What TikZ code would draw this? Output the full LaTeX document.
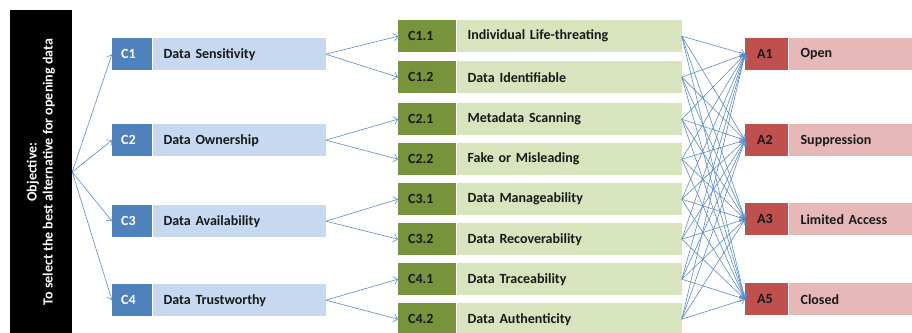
\documentclass[tikz,border=0pt]{standalone}
\usepackage{fontspec}
\setmainfont{Carlito}
\usetikzlibrary{positioning,arrows.meta}

\definecolor{cdark}{HTML}{4F81BD}
\definecolor{clight}{HTML}{C6D9F1}
\definecolor{sdark}{HTML}{77933C}
\definecolor{slight}{HTML}{D7E4BD}
\definecolor{adark}{HTML}{C0504D}
\definecolor{alight}{HTML}{E6B9B8}
\definecolor{linkcol}{HTML}{5A8BC8}

\begin{document}
\begin{tikzpicture}
        [x=1pt, y=-1pt, font=\fontsize{14}{16}\selectfont\bfseries,
        every node/.style={inner ysep=0pt, minimum height=32pt, align=left, anchor=north west},
        ccode/.style={fill=cdark, text=white, text width=22pt, inner xsep=9pt},
        clab/.style={fill=clight, text=black!90, text width=151pt, inner xsep=11pt},
        scode/.style={fill=sdark, text=black!90, text width=38pt, inner xsep=10pt},
        slab/.style={fill=slight, text=black!90, text width=203pt, inner xsep=11pt},
        acode/.style={fill=adark, text=black!90, text width=19pt, inner xsep=12pt},
        alab/.style={fill=alight, text=black!90, text width=106pt, inner xsep=12pt},
        link/.style={draw=linkcol, line width=0.6pt, -{Straight Barb[length=4pt,width=8pt]}}]
        \useasboundingbox (0,0) rectangle (912,332);
        % objective
        \node [fill=black, text=white, rotate=90, anchor=center, align=center,
               minimum width=324pt, minimum height=62pt, inner sep=0pt] (obj) at (41,172)
               {Objective:\\To select the best alternative for opening data};
        % criteria
        \node [ccode] (c1) at (112,38) {C1};
        \node [clab, right=0pt of c1] (c1lab) {Data Sensitivity};
        \node [ccode] (c2) at (112,124) {C2};
        \node [clab, right=0pt of c2] (c2lab) {Data Ownership};
        \node [ccode] (c3) at (112,205) {C3};
        \node [clab, right=0pt of c3] (c3lab) {Data Availability};
        \node [ccode] (c4) at (112,284) {C4};
        \node [clab, right=0pt of c4] (c4lab) {Data Trustworthy};
        % sub-criteria
        \node [scode] (c11) at (398,20) {C1.1};
        \node [slab, right=0pt of c11] (c11lab) {Individual Life-threating};
        \node [scode] (c12) at (398,61) {C1.2};
        \node [slab, right=0pt of c12] (c12lab) {Data Identifiable};
        \node [scode] (c21) at (398,103) {C2.1};
        \node [slab, right=0pt of c21] (c21lab) {Metadata Scanning};
        \node [scode] (c22) at (398,143) {C2.2};
        \node [slab, right=0pt of c22] (c22lab) {Fake or Misleading};
        \node [scode] (c31) at (398,183) {C3.1};
        \node [slab, right=0pt of c31] (c31lab) {Data Manageability};
        \node [scode] (c32) at (398,223) {C3.2};
        \node [slab, right=0pt of c32] (c32lab) {Data Recoverability};
        \node [scode] (c41) at (398,263) {C4.1};
        \node [slab, right=0pt of c41] (c41lab) {Data Traceability};
        \node [scode] (c42) at (398,303) {C4.2};
        \node [slab, right=0pt of c42] (c42lab) {Data Authenticity};
        % alternatives
        \node [acode] (a1) at (745,38) {A1};
        \node [alab, right=0pt of a1] (a1lab) {Open};
        \node [acode] (a2) at (745,124) {A2};
        \node [alab, right=0pt of a2] (a2lab) {Suppression};
        \node [acode] (a3) at (745,203) {A3};
        \node [alab, right=0pt of a3] (a3lab) {Limited Access};
        \node [acode] (a5) at (745,283) {A5};
        \node [alab, right=0pt of a5] (a5lab) {Closed};
        % links
        \foreach \c in {c1,c2,c3,c4}
            \draw [link] (obj.south) -- (\c.west);
        \foreach \c in {1,2,3,4} {
            \draw [link] (c\c lab.east) -- (c\c1.west);
            \draw [link] (c\c lab.east) -- (c\c2.west);
        }
        \foreach \s in {c11,c12,c21,c22,c31,c32,c41,c42}
            \foreach \a in {a1,a2,a3,a5}
                \draw [link] (\s lab.east) -- (\a.west);
\end{tikzpicture}
\end{document}
